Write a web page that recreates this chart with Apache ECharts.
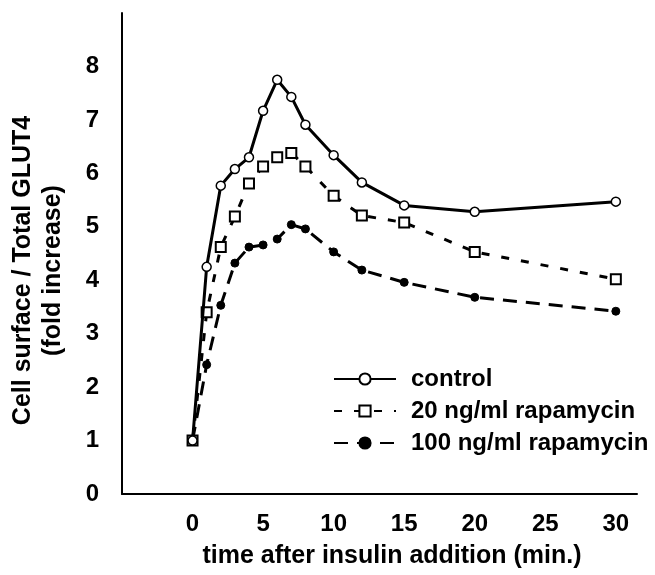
<!DOCTYPE html>
<html>
<head>
<meta charset="utf-8">
<script src="https://cdn.jsdelivr.net/npm/echarts@6/dist/echarts.min.js"></script>
<style>
  html, body { margin: 0; padding: 0; background: #fff; }
  #chart { width: 655px; height: 575px; }
</style>
</head>
<body>
<div id="chart"></div>
<script>
// time points (min)
const times = [0, 1, 2, 3, 4, 5, 6, 7, 8, 10, 12, 15, 20, 30];
// fold increase
const control = [1.0, 4.25, 5.77, 6.08, 6.3, 7.17, 7.75, 7.43, 6.91, 6.34, 5.83, 5.4, 5.28, 5.47];
const rapa20 = [1.0, 3.4, 4.62, 5.19, 5.81, 6.13, 6.3, 6.38, 6.13, 5.58, 5.21, 5.08, 4.53, 4.02];
const rapa100 = [1.0, 2.42, 3.53, 4.32, 4.62, 4.66, 4.77, 5.04, 4.96, 4.53, 4.19, 3.96, 3.68, 3.42];
const seriesNames = ["control", "20 ng/ml rapamycin", "100 ng/ml rapamycin"];

const pairs = (ys) => times.map((t, i) => [t, ys[i]]);
const font = "Liberation Sans, Arial, sans-serif";

const myChart = echarts.init(document.getElementById("chart"));
const option = {
  animation: false,
  backgroundColor: "#fff",
  grid: { left: 118, right: 18, top: 13, bottom: 81 },
  legend: {
    orient: "vertical",
    left: 328,
    top: 362,
    itemWidth: 62,
    itemHeight: 14,
    itemGap: 8,
    textStyle: { fontFamily: font, fontWeight: "bold", fontSize: 24, color: "#000", padding: [0, 0, 0, 10] },
    data: seriesNames
  },
  xAxis: {
    type: "value",
    min: -5,
    max: 31.5,
    interval: 5,
    name: "time after insulin addition (min.)",
    nameLocation: "middle",
    nameGap: 50,
    nameTextStyle: { fontFamily: font, fontWeight: "bold", fontSize: 25, color: "#000", padding: [0, 0, 0, 25] },
    axisLine: { lineStyle: { color: "#000", width: 2 } },
    axisTick: { show: false },
    splitLine: { show: false },
    axisLabel: {
      margin: 18,
      fontFamily: font, fontWeight: "bold", fontSize: 24, color: "#000",
      formatter: (v) => (v < 0 ? "" : String(v))
    }
  },
  yAxis: {
    type: "value",
    min: 0,
    max: 9,
    interval: 1,
    name: "Cell surface / Total GLUT4\n(fold increase)",
    nameLocation: "middle",
    nameGap: 54,
    nameRotate: 90,
    nameTextStyle: { fontFamily: font, fontWeight: "bold", fontSize: 25, color: "#000", lineHeight: 30, padding: [0, 34, 0, 0] },
    axisLine: { show: true, onZero: false, lineStyle: { color: "#000", width: 2 } },
    axisTick: { show: false },
    splitLine: { show: false },
    axisLabel: {
      margin: 23,
      fontFamily: font, fontWeight: "bold", fontSize: 24, color: "#000",
      formatter: (v) => (v > 8 ? "" : String(v))
    }
  },
  series: [
    {
      name: seriesNames[0],
      type: "line",
      data: pairs(control),
      symbol: "circle",
      symbolSize: 9,
      z: 3,
      lineStyle: { color: "#000", width: 3 },
      itemStyle: { color: "#fff", borderColor: "#000", borderWidth: 1.5 }
    },
    {
      name: seriesNames[1],
      type: "line",
      data: pairs(rapa20),
      symbol: "rect",
      symbolSize: 10,
      z: 2,
      lineStyle: { color: "#000", width: 3, type: [8, 12] },
      itemStyle: { color: "#fff", borderColor: "#000", borderWidth: 2 }
    },
    {
      name: seriesNames[2],
      type: "line",
      data: pairs(rapa100),
      symbol: "circle",
      symbolSize: 8,
      z: 2,
      lineStyle: { color: "#000", width: 3, type: [14, 9] },
      itemStyle: { color: "#000", borderColor: "#000", borderWidth: 1 }
    }
  ]
};
option && myChart.setOption(option, true);
</script>
</body>
</html>
